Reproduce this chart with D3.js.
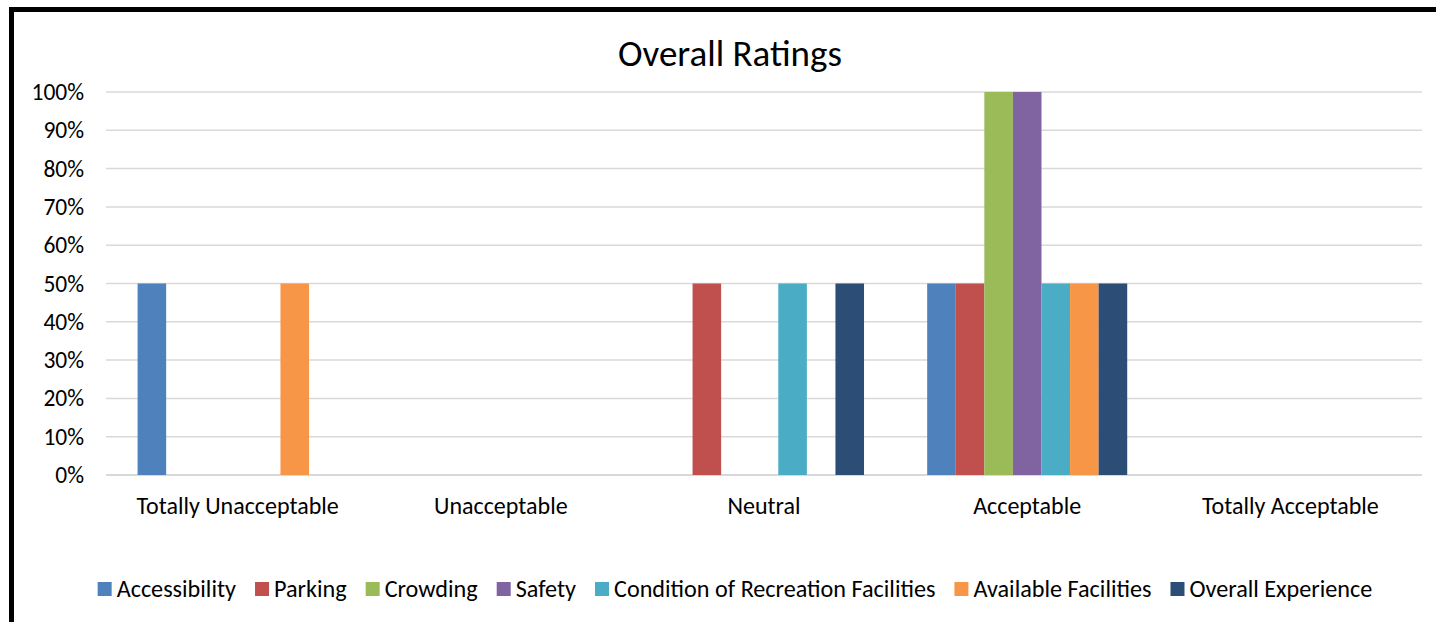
<!DOCTYPE html>
<html>
<head>
<meta charset="utf-8">
<script src="https://cdn.jsdelivr.net/npm/d3@7"></script>
<style>
  body { margin: 0; background: #fff; }
  svg { display: block; }
</style>
</head>
<body>
<svg id="chart"></svg>
<script>
const categories = ["Totally Unacceptable", "Unacceptable", "Neutral", "Acceptable", "Totally Acceptable"]
const seriesNames = ["Accessibility", "Parking", "Crowding", "Safety", "Condition of Recreation Facilities", "Available Facilities", "Overall Experience"]
const accessibility = [0.5, 0, 0, 0.5, 0]
const parking = [0, 0, 0.5, 0.5, 0]
const crowding = [0, 0, 0, 1, 0]
const safety = [0, 0, 0, 1, 0]
const condition = [0, 0, 0.5, 0.5, 0]
const available = [0.5, 0, 0, 0.5, 0]
const overall = [0, 0, 0.5, 0.5, 0]
const yTicks = [0, 0.1, 0.2, 0.3, 0.4, 0.5, 0.6, 0.7, 0.8, 0.9, 1]
const colors = ["#4F81BD", "#C0504D", "#9BBB59", "#8064A2", "#4BACC6", "#F79646", "#2C4D75"]

const values = [accessibility, parking, crowding, safety, condition, available, overall]

var width = 1436,
    height = 622
var margin = { top: 92, right: 14, bottom: 147, left: 106 }
var font = "Carlito, Calibri, 'Open Sans', sans-serif"

var svg = d3.select("#chart")
    .attr("width", width)
    .attr("height", height)
    .style("font-family", font)

// outer frame (runs off the right and bottom)
svg.append("path")
    .attr("d", "M11.5,640 V9.5 H1460")
    .attr("fill", "none")
    .attr("stroke", "#000")
    .attr("stroke-width", 5)

var x = d3.scaleBand()
    .domain(categories)
    .range([margin.left, width - margin.right])
    .paddingInner(0)
    .paddingOuter(0)

var inner = d3.scaleBand()
    .domain(seriesNames)
    .range([0, x.bandwidth() * 0.76])

var y = d3.scaleLinear()
    .domain([0, 1])
    .range([height - margin.bottom, margin.top])

// gridlines
svg.append("g").attr("class", "grid")
    .selectAll("line")
    .data(yTicks)
    .join("line")
    .attr("x1", margin.left)
    .attr("x2", width - margin.right)
    .attr("y1", d => y(d))
    .attr("y2", d => y(d))
    .attr("stroke", "#D9D9D9")
    .attr("stroke-width", d => d == 0 ? 2 : 1.5)

// bars
var offset = (x.bandwidth() - inner.range()[1]) / 2
svg.append("g").attr("class", "bars")
    .selectAll("g")
    .data(values)
    .join("g")
    .attr("fill", (d, i) => colors[i])
    .selectAll("rect")
    .data((d, i) => d.map((v, j) => ({ cat: categories[j], s: seriesNames[i], v: v })))
    .join("rect")
    .filter(d => d.v > 0)
    .attr("x", d => x(d.cat) + offset + inner(d.s))
    .attr("y", d => y(d.v))
    .attr("width", inner.bandwidth())
    .attr("height", d => y(0) - y(d.v))

// y axis
var yAxis = d3.axisLeft(y)
    .tickValues(yTicks)
    .tickFormat(d3.format(".0%"))
    .tickSize(0)
    .tickPadding(22)
svg.append("g")
    .attr("transform", `translate(${margin.left},0)`)
    .call(yAxis)
    .call(g => g.select(".domain").remove())
    .selectAll("text")
    .attr("font-family", font)
    .attr("font-size", 23.5)
    .attr("fill", "#000")

// x axis
var xAxis = d3.axisBottom(x).tickSize(0).tickPadding(22)
svg.append("g")
    .attr("transform", `translate(0,${y(0)})`)
    .call(xAxis)
    .call(g => g.select(".domain").remove())
    .selectAll("text")
    .attr("font-family", font)
    .attr("font-size", 24)
    .attr("fill", "#000")

// title
svg.append("text")
    .attr("x", 730)
    .attr("y", 66)
    .attr("text-anchor", "middle")
    .attr("font-size", 37)
    .attr("fill", "#000")
    .text("Overall Ratings")

// legend
var legend = svg.append("g").attr("class", "legend")
var items = legend.selectAll("g")
    .data(seriesNames)
    .join("g")
items.append("rect")
    .attr("width", 14).attr("height", 14)
    .attr("y", -15)
    .attr("fill", (d, i) => colors[i])
items.append("text")
    .attr("x", 19)
    .attr("font-size", 24.2)
    .attr("fill", "#000")
    .text(d => d)
var widths = []
items.each(function () {
    var w = this.querySelector("text").getComputedTextLength() + 19
    widths.push(w)
})
var gap = 19
var total = d3.sum(widths) + gap * (widths.length - 1)
var start = 735 - total / 2
items.attr("transform", (d, i) => {
    var tx = start + d3.sum(widths.slice(0, i)) + gap * i
    return `translate(${tx},597)`
})
</script>
</body>
</html>
